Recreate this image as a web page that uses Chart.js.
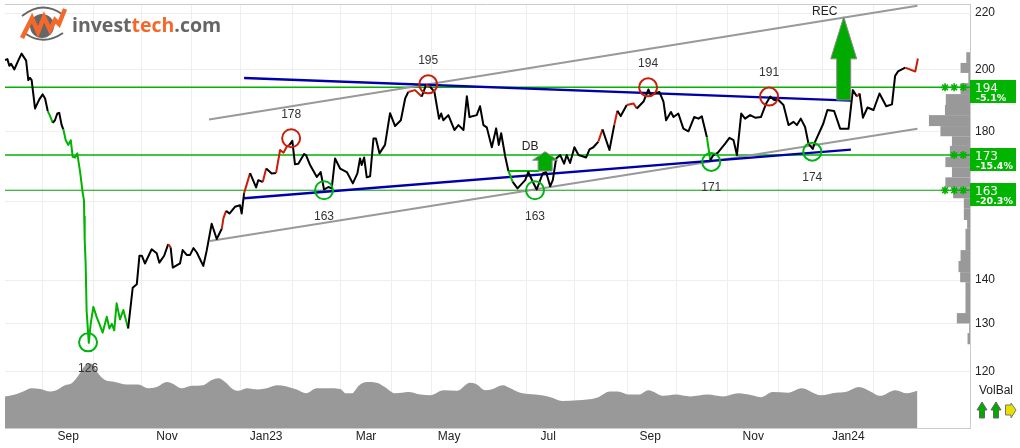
<!DOCTYPE html>
<html>
<head>
<meta charset="utf-8">
<title>investtech.com</title>
<script src="https://cdn.jsdelivr.net/npm/chart.js@4/dist/chart.umd.js"></script>
<style>
  html, body { margin: 0; padding: 0; background: #fff; }
  #wrap { width: 1020px; height: 448px; }
  canvas { display: block; }
</style>
</head>
<body>
<div id="wrap"><canvas id="priceChart" width="1020" height="448"></canvas></div>
<script>
// closing prices, x is the session number counted from the left edge
const priceSessions = [
  0, 1.0, 1.8, 2.5, 3.9, 5.5, 6.9, 8.8, 9.7, 10.4, 11.1, 12.5, 13.5, 14.3, 15.7, 16.7, 17.8, 18.8, 19.9, 20.8,
  21.8, 22.6, 23.6, 24.3, 25.3, 26.4, 27.4, 28.2, 29.2, 30.1, 31.3, 32.4, 32.9, 33.0, 33.1, 33.3, 33.6, 34.0, 34.9, 35.7,
  36.8, 38.2, 39.3, 40.7, 42.4, 43.5, 44.5, 45.5, 46.5, 47.9, 49.3, 51.3, 53.2, 54.9, 56.0, 57.0, 58.3, 61.1, 63.2, 64.3,
  66.3, 68.0, 69.0, 69.9, 72.9, 74.0, 75.7, 77.1, 78.5, 79.9, 82.6, 84.0, 86.1, 88.2, 90.3, 91.0, 92.1, 93.5, 95.8, 97.9,
  98.6, 99.6, 102.1, 104.6, 105.5, 107.4, 108.8, 111.1, 112.9, 114.6, 116.0, 117.4, 118.5, 119.7, 120.8, 122.2, 124.6, 125.4, 127.1, 129.9,
  131.5, 132.9, 134.7, 136.1, 137.5, 139.6, 142.4, 144.9, 146.8, 147.9, 148.6, 149.6, 150.7, 152.1, 153.5, 154.5, 156.0, 158.3, 160.4, 162.5,
  164.9, 166.7, 168.0, 170.8, 173.6, 175.4, 177.1, 178.9, 180.8, 181.7, 182.6, 184.7, 187.2, 188.9, 191.0, 192.4, 193.5, 196.5, 197.9, 199.3,
  200.7, 202.8, 204.6, 205.7, 206.7, 208.4, 209.7, 211.5, 213.5, 216.7, 218.0, 219.9, 221.5, 224.0, 225.4, 227.1, 228.2, 229.6, 231.3, 232.9,
  234.0, 235.4, 237.2, 238.9, 242.1, 243.5, 245.1, 247.2, 248.9, 251.8, 253.8, 255.1, 256.5, 259.0, 261.8, 263.2, 266.0, 268.0, 269.0, 272.6,
  274.3, 275.4, 277.4, 278.5, 280.5, 282.6, 284.7, 287.1, 288.9, 290.3, 292.4, 293.8, 295.1, 296.8, 300.0, 301.8, 303.5, 304.9, 306.7, 308.3,
  310.4, 312.5, 314.9, 317.1, 318.8, 320.4, 322.2, 324.3, 326.4, 328.5, 329.9, 331.5, 333.3, 334.7, 336.5, 337.5, 340.9, 342.6, 345.4, 347.9,
  351.4, 353.2, 354.9, 356.0, 357.4, 359.3, 361.8, 364.3, 367.1, 369.5, 370.8, 372.0, 375.0, 379.2, 380.3
];
const priceValues = [
  203.2, 203.5, 201.2, 201.9, 200.0, 203.0, 205.4, 203.0, 196.4, 197.2, 196.4, 187.2, 188.8, 190.1, 191.7, 190.4, 186.4, 184.8, 182.7, 183.5,
  185.6, 185.8, 182.0, 180.7, 177.4, 176.0, 177.4, 172.5, 172.3, 173.5, 168.1, 162.1, 160.3, 155.9, 154.0, 149.8, 143.9, 132.9, 125.9, 130.0,
  133.8, 131.5, 130.0, 128.1, 131.6, 129.0, 130.0, 128.6, 134.6, 131.0, 133.1, 129.0, 138.2, 139.0, 145.9, 145.9, 144.0, 147.5, 146.5, 144.2,
  145.9, 148.8, 148.0, 143.0, 144.0, 147.3, 146.1, 146.1, 147.8, 146.7, 143.4, 147.1, 154.0, 150.1, 152.7, 155.5, 157.4, 156.7, 158.5, 158.9,
  156.7, 162.2, 167.8, 163.8, 165.8, 165.3, 169.1, 167.7, 167.8, 174.5, 173.7, 175.5, 176.0, 177.2, 170.3, 170.5, 173.3, 173.0, 170.1, 166.7,
  168.1, 163.2, 163.9, 163.5, 172.0, 169.1, 168.1, 164.9, 167.7, 172.0, 170.1, 172.3, 166.6, 166.9, 177.9, 177.9, 173.5, 176.0, 185.7, 181.7,
  183.5, 190.4, 192.5, 193.1, 191.0, 194.8, 194.2, 192.5, 184.0, 185.6, 183.5, 185.1, 180.5, 182.0, 180.5, 191.1, 184.5, 185.1, 187.9, 182.0,
  181.3, 175.3, 181.0, 176.0, 179.5, 172.5, 168.4, 165.3, 163.5, 165.8, 168.1, 165.3, 163.2, 167.7, 168.1, 164.1, 165.8, 172.0, 173.0, 170.5,
  173.0, 170.7, 175.3, 173.0, 172.3, 174.7, 175.3, 177.0, 180.7, 174.5, 182.0, 186.5, 184.8, 188.3, 188.8, 187.2, 189.4, 193.3, 191.5, 192.5,
  189.4, 183.5, 186.1, 184.5, 185.6, 180.9, 180.1, 184.5, 184.0, 184.7, 178.3, 171.5, 173.0, 173.6, 176.4, 178.1, 177.4, 173.0, 185.6, 184.0,
  185.1, 184.3, 184.5, 188.8, 191.0, 189.9, 189.9, 188.3, 182.0, 183.0, 182.0, 184.0, 181.4, 176.4, 174.8, 177.0, 182.5, 186.7, 186.4, 180.9,
  180.9, 193.1, 191.0, 192.0, 184.3, 187.5, 186.7, 192.0, 187.9, 188.5, 197.8, 199.3, 200.6, 199.3, 203.7
];

// sessions where the line turns red or green
const redSpans = [[68.0, 69.0], [90.3, 92.1], [99.6, 102.1], [107.4, 108.8], [112.9, 118.5], [168.0, 173.6], [175.4, 177.1],
  [247.2, 248.9], [253.8, 255.1], [259.0, 263.2], [354.9, 356.0], [375.0, 380.3]];
const greenSpans = [[17.8, 19.9], [24.3, 51.3], [209.7, 211.5], [292.4, 293.8]];

// volume balance along the bottom
const volumeSessions = [
  0, 4.9, 7.6, 11.1, 14.6, 18.8, 20.8, 25, 27.8, 30.5, 33.3, 36.1, 38.9, 41.7, 45.8, 50.7, 55.5, 59.7, 63.2, 67.4,
  70.1, 73.6, 77.8, 82.6, 86.1, 88.9, 91.7, 95.1, 97.2, 100.7, 105.5, 109, 113.2, 117.4, 121.5, 125.4, 129.9, 134.7, 139.6, 142,
  144.4, 147.6, 150.8, 154.8, 157.9, 162.7, 168, 173.1, 177.1, 182.7, 188.2, 193.8, 196.2, 200.2, 202.6, 207.4, 210.6, 214.6, 221, 227.3,
  232.1, 238.5, 246.5, 252, 255.2, 260, 264, 268, 274.4, 279.2, 285.5, 292.7, 299.1, 305.5, 311.1, 315.1, 319.8, 326.2, 331.8, 339.8,
  346.2, 350.1, 355.7, 360.5, 364.5, 370.9, 375.7, 380.1
];
const volumeValues = [
  50, 54, 58, 63, 62, 58, 59, 68, 71, 83, 99, 102, 86, 76, 73, 69, 69, 63, 65, 73,
  70, 63, 67, 68, 76, 79, 73, 61, 59, 63, 61, 63, 68, 66, 61, 55, 63, 63, 62, 55,
  55, 68, 73, 72, 66, 55, 57, 53, 52, 60, 59, 72, 70, 60, 61, 68, 63, 56, 53, 49,
  43, 44, 48, 58, 58, 53, 53, 60, 51, 53, 50, 53, 50, 55, 52, 49, 57, 56, 63, 52,
  56, 57, 65, 58, 51, 60, 55, 59
];

// traded volume per price band, right hand side
const bandEdges = [205.9, 202.2, 198.8, 195.4, 191.8, 188.3, 185.1, 181.7, 178.6, 175.7, 172.4, 169.5, 166.6, 163.8,
  160.8, 158.1, 155.0, 152.7, 147.3, 144.6, 141.9, 139.5, 137.2, 132.4, 130.1, 128.0, 125.6];
const bandVolumes = [9, 23, 4, 23, 59, 61, 100, 72, 44, 49, 60, 44, 60, 41, 15, 15, 7, 11, 23, 28, 24, 11, 11, 32, 2, 6];

// axis ticks
const monthGridSessions = [15.8, 36.7, 56.7, 77.9, 98.3, 119.6, 139.6, 161.2, 177.5, 195.8, 217.1, 237.1, 259.2, 279.6, 300.8, 322.1, 340.4, 361.7];
const monthLabels = ['Sep', 'Nov', 'Jan23', 'Mar', 'May', 'Jul', 'Sep', 'Nov', 'Jan24'];
const monthLabelSessions = [26.3, 67.5, 108.8, 150.4, 185, 226.3, 268.8, 311.7, 351.3];
const priceTicks = [120, 130, 140, 160, 180, 200, 220];

// support and resistance levels
const levelValues = [194, 173, 163];
const levelChanges = ['-5.1%', '-15.4%', '-20.3%'];
const levelStars = [3, 2, 3];
const starSessions = [399.2, 395.4, 391.6];

// turning points
const topSessions = [119.2, 176.3, 267.9, 318.3];
const topValues = [178, 195, 194, 191];
const bottomSessions = [34.6, 132.9, 220.8, 294.2, 336.3];
const bottomValues = [126, 163, 163, 171, 174];

// trend channels, [session, price] at both ends
const greyUpper = [[85, 183.7], [380.1, 222.7]];
const greyLower = [[85.4, 149.6], [380.1, 180.9]];
const blueUpper = [[99.6, 197.1], [352.4, 189.7]];
const blueLower = [[99.6, 160.8], [352.4, 174.6]];
const doubleBottomNeck = [[209.7, 168.4], [222.5, 168.4]];

const signalArrows = [
  { session: 225, tip: 174.0, head: 171.5, base: 168.4, headHalf: 12.5, shaftHalf: 7, label: 'DB', labelX: -15, labelY: -5 },
  { session: 349.4, tip: 218.6, head: 203.6, base: 189.9, headHalf: 13, shaftHalf: 7, label: 'REC', labelX: -19, labelY: -5 }
];

const GREEN = '#00b400';
const RED = '#c81e0a';
const BLUE = '#0000aa';
const GREY = '#999999';

function toPoints(pairs) {
  return pairs.map(p => ({ x: p[0], y: p[1] }));
}

function inSpans(spans, x) {
  return spans.some(s => x >= s[0] && x <= s[1]);
}

function trendColor(ctx) {
  const mid = (ctx.p0.parsed.x + ctx.p1.parsed.x) / 2;
  if (inSpans(redSpans, mid)) return RED;
  if (inSpans(greenSpans, mid)) return GREEN;
  return '#000000';
}

function channelLine(pairs, color, width, order) {
  return {
    data: toPoints(pairs), borderColor: color, borderWidth: width, pointRadius: 0, order: order, yAxisID: 'y'
  };
}

function circles(xs, ys, color) {
  return {
    data: xs.map((x, i) => ({ x: x, y: ys[i] })),
    showLine: false, pointRadius: 9, pointBorderWidth: 2, pointBorderColor: color,
    pointBackgroundColor: 'transparent', order: 1, yAxisID: 'y'
  };
}

// the layout reserves room for half a label at the axis ends, not wanted here
function noEndPadding(axis) {
  axis.paddingLeft = 0;
  axis.paddingRight = 0;
  axis.paddingTop = 0;
  axis.paddingBottom = 0;
}

const datasets = [];

datasets.push({
  data: volumeSessions.map((x, i) => ({ x: x, y: volumeValues[i] })),
  yAxisID: 'yVolume', borderWidth: 0, pointRadius: 0, cubicInterpolationMode: 'monotone',
  backgroundColor: GREY, fill: 'origin', order: 10
});

levelValues.forEach((value, i) => {
  datasets.push(channelLine([[0, value], [402, value]], i === 2 ? '#00a000' : GREEN, i === 2 ? 1 : 1.5, 8));
  datasets.push({
    data: starSessions.slice(0, levelStars[i]).map(x => ({ x: x, y: value })),
    showLine: false, pointStyle: 'star', pointRadius: 4, pointBorderWidth: 1.6,
    pointBorderColor: GREEN, order: 1, yAxisID: 'y'
  });
});

datasets.push(channelLine(greyUpper, GREY, 2, 7));
datasets.push(channelLine(greyLower, GREY, 2, 7));
datasets.push(channelLine(blueUpper, BLUE, 2.4, 6));
datasets.push(channelLine(blueLower, BLUE, 2.4, 6));
datasets.push(channelLine(doubleBottomNeck, GREEN, 2, 6));

datasets.push({
  data: priceSessions.map((x, i) => ({ x: x, y: priceValues[i] })),
  yAxisID: 'y', borderColor: '#000000', borderWidth: 2, pointRadius: 0,
  borderJoinStyle: 'round', segment: { borderColor: trendColor }, order: 3
});

datasets.push(circles(topSessions, topValues, RED));
datasets.push(circles(bottomSessions, bottomValues, '#00b414'));

function upArrow(ctx, x, tip, head, base, headHalf, shaftHalf, fill, stroke) {
  ctx.beginPath();
  ctx.moveTo(x, tip);
  ctx.lineTo(x + headHalf, head);
  ctx.lineTo(x + shaftHalf, head);
  ctx.lineTo(x + shaftHalf, base);
  ctx.lineTo(x - shaftHalf, base);
  ctx.lineTo(x - shaftHalf, head);
  ctx.lineTo(x - headHalf, head);
  ctx.closePath();
  ctx.fillStyle = fill;
  ctx.fill();
  ctx.strokeStyle = stroke;
  ctx.lineWidth = 1;
  ctx.stroke();
}

function drawLogo(ctx) {
  ctx.save();
  ctx.fillStyle = '#666666';
  ctx.beginPath();
  ctx.arc(42, 26, 12, 0, Math.PI * 2);
  ctx.fill();

  ctx.strokeStyle = '#666666';
  ctx.lineWidth = 2;
  ctx.beginPath();
  ctx.moveTo(22, 16);
  ctx.quadraticCurveTo(42, 0, 62, 14);
  ctx.stroke();
  ctx.beginPath();
  ctx.moveTo(26, 34);
  ctx.quadraticCurveTo(44, 46, 63, 33);
  ctx.stroke();

  ctx.strokeStyle = '#f4682a';
  ctx.lineWidth = 4.5;
  ctx.lineJoin = 'miter';
  ctx.beginPath();
  [[22, 38], [32, 18], [38, 32], [44, 17], [50, 30], [55, 20], [59, 24], [65, 9]].forEach((p, i) => {
    if (i === 0) ctx.moveTo(p[0], p[1]); else ctx.lineTo(p[0], p[1]);
  });
  ctx.stroke();

  ctx.font = '700 19.5px "Open Sans"';
  ctx.textAlign = 'left';
  ctx.textBaseline = 'alphabetic';
  let left = 72;
  [['invest', '#666666'], ['tech', '#f4682a'], ['.com', '#666666']].forEach(part => {
    ctx.fillStyle = part[1];
    ctx.fillText(part[0], left, 32);
    left += ctx.measureText(part[0]).width;
  });
  ctx.restore();
}

const overlayPlugin = {
  id: 'overlay',
  beforeDatasetsDraw(chart) {
    const ctx = chart.ctx;
    const area = chart.chartArea;
    const y = chart.scales.y;
    const xBand = chart.scales.xBand;

    ctx.save();
    ctx.strokeStyle = '#cccccc';
    ctx.lineWidth = 1;
    ctx.beginPath();
    ctx.moveTo(area.left, area.top + 0.5);
    ctx.lineTo(area.right, area.top + 0.5);
    ctx.stroke();

    // price band histogram, growing left from the axis
    ctx.fillStyle = GREY;
    bandVolumes.forEach((volume, i) => {
      const top = y.getPixelForValue(bandEdges[i]);
      const bottom = y.getPixelForValue(bandEdges[i + 1]);
      const left = xBand.getPixelForValue(volume);
      ctx.fillRect(left, top, area.right - left, bottom - top);
    });
    ctx.restore();
  },
  afterDatasetsDraw(chart) {
    const ctx = chart.ctx;
    const x = chart.scales.x;
    const y = chart.scales.y;

    ctx.save();
    ctx.font = '12px "Liberation Sans"';
    ctx.textAlign = 'center';
    ctx.textBaseline = 'middle';

    signalArrows.forEach(a => {
      const px = x.getPixelForValue(a.session);
      const tip = y.getPixelForValue(a.tip);
      upArrow(ctx, px, tip, y.getPixelForValue(a.head), y.getPixelForValue(a.base), a.headHalf, a.shaftHalf, '#00aa00', '#8a8a8a');
      ctx.fillStyle = '#222222';
      ctx.fillText(a.label, px + a.labelX, tip + a.labelY);
    });

    ctx.fillStyle = '#333333';
    topSessions.forEach((s, i) => {
      ctx.fillText(String(topValues[i]), x.getPixelForValue(s), y.getPixelForValue(topValues[i]) - 24);
    });
    bottomSessions.forEach((s, i) => {
      ctx.fillText(String(bottomValues[i]), x.getPixelForValue(s), y.getPixelForValue(bottomValues[i]) + 26);
    });
    ctx.restore();
  },
  afterDraw(chart) {
    const ctx = chart.ctx;
    const area = chart.chartArea;
    const y = chart.scales.y;

    ctx.save();
    // level tags on the price axis
    levelValues.forEach((value, i) => {
      const py = Math.round(y.getPixelForValue(value));
      ctx.fillStyle = GREEN;
      ctx.fillRect(area.right, py - 7, 46, 23);
      ctx.fillStyle = '#ffffff';
      ctx.textAlign = 'left';
      ctx.textBaseline = 'alphabetic';
      ctx.font = '12px "DejaVu Sans"';
      ctx.fillText(String(value), area.right + 5, py + 5);
      ctx.font = 'bold 9.5px "DejaVu Sans"';
      ctx.fillText(levelChanges[i], area.right + 6, py + 14);
    });

    ctx.fillStyle = '#222222';
    ctx.font = '12px "Liberation Sans"';
    ctx.textAlign = 'center';
    ctx.textBaseline = 'middle';
    ctx.fillText('VolBal', 996, 391);

    upArrow(ctx, 982, 402, 410, 418, 5, 2.5, '#00aa00', '#666666');
    upArrow(ctx, 996, 402, 410, 418, 5, 2.5, '#00aa00', '#666666');

    // yellow sideways arrow
    ctx.beginPath();
    ctx.moveTo(1016, 410);
    ctx.lineTo(1011, 403);
    ctx.lineTo(1011, 405);
    ctx.lineTo(1005.5, 405);
    ctx.lineTo(1005.5, 415);
    ctx.lineTo(1011, 415);
    ctx.lineTo(1011, 418);
    ctx.closePath();
    ctx.fillStyle = '#e8e000';
    ctx.fill();
    ctx.strokeStyle = '#777777';
    ctx.lineWidth = 1;
    ctx.stroke();

    drawLogo(ctx);
    ctx.restore();
  }
};

new Chart(document.getElementById('priceChart'), {
  type: 'line',
  data: { datasets: datasets },
  plugins: [overlayPlugin],
  options: {
    responsive: false,
    animation: false,
    layout: { autoPadding: false, padding: { left: 5, top: 4, right: 0, bottom: 0 } },
    plugins: { legend: { display: false }, tooltip: { enabled: false } },
    font: { family: '"Liberation Sans"' },
    scales: {
      x: {
        type: 'linear', min: 0, max: 402, bounds: 'data', position: 'bottom',
        afterBuildTicks(axis) { axis.ticks = monthGridSessions.map(v => ({ value: v })); },
        afterFit: noEndPadding,
        ticks: { display: false },
        grid: { color: '#eeeeee', drawTicks: false },
        border: { color: '#cccccc' }
      },
      xMonths: {
        type: 'linear', min: 0, max: 402, bounds: 'data', position: 'bottom',
        afterBuildTicks(axis) { axis.ticks = monthLabelSessions.map(v => ({ value: v })); },
        afterFit(axis) { axis.height = 20; noEndPadding(axis); },
        ticks: {
          autoSkip: false, maxRotation: 0, padding: 1, color: '#222222',
          font: { family: '"Liberation Sans"', size: 12 },
          callback(value) { return monthLabels[monthLabelSessions.indexOf(value)]; }
        },
        grid: { display: false, drawTicks: false },
        border: { display: false }
      },
      y: {
        type: 'logarithmic', min: 109, max: 223.4, bounds: 'data', position: 'right',
        afterBuildTicks(axis) { axis.ticks = priceTicks.map(v => ({ value: v })); },
        afterFit(axis) { axis.width = 50; noEndPadding(axis); },
        ticks: {
          autoSkip: false, padding: 5, color: '#222222',
          font: { family: '"Liberation Sans"', size: 12 },
          callback(value) { return String(value); }
        },
        grid: { color: '#eeeeee', drawTicks: false },
        border: { color: '#cccccc' }
      },
      yVolume: { type: 'linear', min: 0, max: 673, display: false },
      xBand: { type: 'linear', min: 0, max: 2350, reverse: true, display: false }
    }
  }
});
</script>
</body>
</html>
